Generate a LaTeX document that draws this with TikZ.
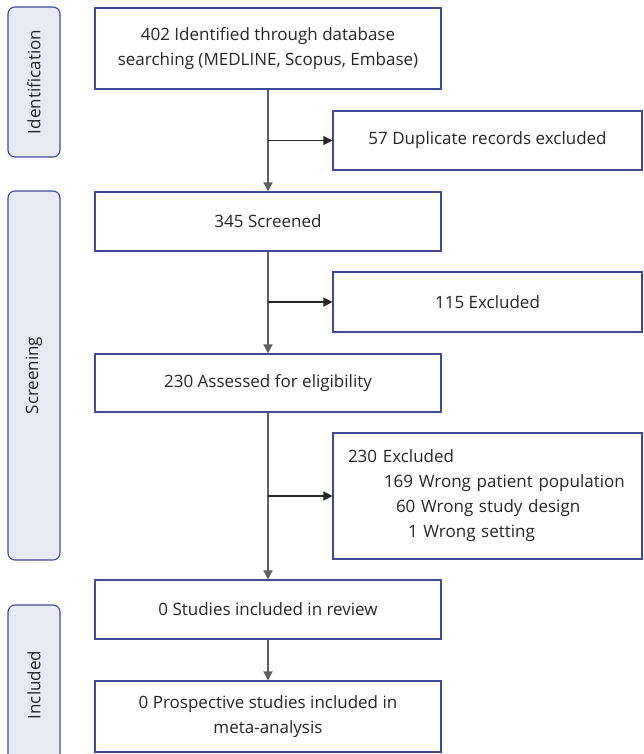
\documentclass[tikz,border=0pt]{standalone}
\usepackage{fontspec}
\setmainfont{Open Sans}
\usetikzlibrary{arrows.meta}
\definecolor{boxblue}{RGB}{62,74,150}
\definecolor{stagefill}{RGB}{232,235,243}
\definecolor{linegrey}{RGB}{95,95,95}
\begin{document}
\begin{tikzpicture}[x=1pt,y=-1pt,
  font=\fontsize{17}{25}\selectfont,
  flowbox/.style={draw=boxblue, line width=1.1pt, fill=white, inner sep=0pt, align=center, text=black!85},
  stagebox/.style={draw=boxblue, fill=stagefill, rounded corners=7pt, line width=1.1pt, inner sep=0pt, rotate=90, text=black!85},
  conn/.style={draw=linegrey, line width=1.4pt, -{Triangle[length=9pt,width=9pt]}, color=linegrey},
  branch/.style={draw=black!85, line width=1.2pt, -{Triangle[length=9pt,width=9pt]}}]
\useasboundingbox (0,0) rectangle (643,754);
\begin{scope}
\clip (0,0) rectangle (643,754);
% stage labels
\node[stagebox, minimum width=150pt, minimum height=52pt] (s1) at (34,82) {Identification};
\node[stagebox, minimum width=369pt, minimum height=52pt] (s2) at (34,375.5) {Screening};
\node[stagebox, minimum width=160pt, minimum height=52pt] (s3) at (34,685) {Included};
% main column
\node[flowbox, minimum width=346pt, minimum height=81pt] (b1) at (268,48.5)
  {402 Identified through database\\searching (MEDLINE, Scopus, Embase)};
\node[flowbox, minimum width=346pt, minimum height=59pt] (b2) at (268,221.5) {345 Screened};
\node[flowbox, minimum width=346pt, minimum height=58pt] (b3) at (268,383) {230 Assessed for eligibility};
\node[flowbox, minimum width=346pt, minimum height=59pt] (b4) at (268,609.5) {0 Studies included in review};
\node[flowbox, minimum width=346pt, minimum height=71pt] (b5) at (268,716.5)
  {0 Prospective studies included in\\meta-analysis};
% side column
\node[flowbox, minimum width=309pt, minimum height=59pt] (e1) at (487.5,140.5) {57 Duplicate records excluded};
\node[flowbox, minimum width=309pt, minimum height=60pt] (e2) at (487.5,302) {115 Excluded};
\node[flowbox, minimum width=309pt, minimum height=126pt, align=left, text width=279pt, inner xsep=15pt] (e3) at (487.5,496)
  {230 Excluded\\
   \hspace*{36pt}169 Wrong patient population\\
   \hspace*{48pt}60 Wrong study design\\
   \hspace*{60pt}1 Wrong setting};
% connectors
\draw[conn] (b1) -- (b2);
\draw[conn] (b2) -- (b3);
\draw[conn] (b3) -- (b4);
\draw[conn] (b4) -- (b5);
\coordinate (j1) at (b1.south |- e1.west);
\coordinate (j2) at (b2.south |- e2.west);
\coordinate (j3) at (b3.south |- e3.west);
\draw[branch] (j1) -- (e1.west);
\draw[branch] (j2) -- (e2.west);
\draw[branch] (j3) -- (e3.west);
\end{scope}
\end{tikzpicture}
\end{document}
